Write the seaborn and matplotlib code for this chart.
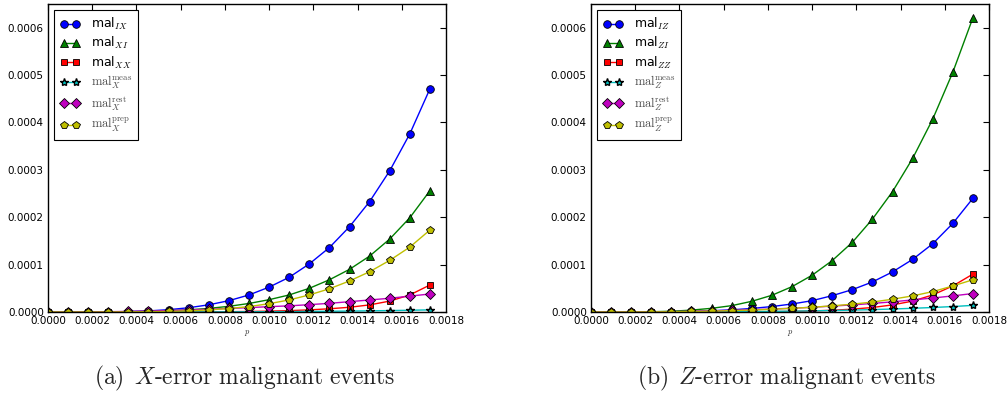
import numpy as np
import pandas as pd
import matplotlib
matplotlib.use("Agg")
import matplotlib.pyplot as plt
from matplotlib.ticker import FormatStrFormatter, MultipleLocator
import seaborn as sns

# ---------------- data ----------------
p = [0.0, 0.0000909, 0.0001818, 0.0002727, 0.0003636, 0.0004545, 0.0005455,
     0.0006364, 0.0007273, 0.0008182, 0.0009091, 0.0010000, 0.0010909,
     0.0011818, 0.0012727, 0.0013636, 0.0014545, 0.0015455, 0.0016364,
     0.0017273]

# (a) X-error malignant events
mal_IX = [0, 4e-9, 6e-8, 3e-7, 9.5e-7, 2.3e-6, 4.9e-6, 9.0e-6, 1.52e-5, 2.39e-5,
          3.6e-5, 5.25e-5, 7.33e-5, 1.015e-4, 1.36e-4, 1.80e-4, 2.33e-4,
          2.98e-4, 3.76e-4, 4.71e-4]
mal_XI = [0, 2e-9, 4e-8, 2e-7, 6e-7, 1.35e-6, 2.6e-6, 4.6e-6, 7.6e-6, 1.2e-5,
          1.8e-5, 2.6e-5, 3.6e-5, 5.0e-5, 6.8e-5, 9.0e-5, 1.18e-4, 1.54e-4,
          1.99e-4, 2.56e-4]
mal_XX = [0, 0, 0, 2e-9, 1e-8, 3e-8, 8e-8, 1.8e-7, 3.5e-7, 6.5e-7, 1.1e-6,
          1.8e-6, 2.9e-6, 4.5e-6, 6.8e-6, 1.0e-5, 1.5e-5, 2.3e-5, 3.6e-5, 5.7e-5]
mal_X_meas = [0, 0, 3e-9, 1e-8, 2.5e-8, 5e-8, 9e-8, 1.5e-7, 2.4e-7, 3.5e-7,
              5e-7, 7e-7, 9.5e-7, 1.25e-6, 1.6e-6, 2.0e-6, 2.5e-6, 3.0e-6,
              3.7e-6, 4.5e-6]
mal_X_rest = [0, 5e-8, 2.5e-7, 6e-7, 1.2e-6, 2.0e-6, 3.0e-6, 4.3e-6, 5.8e-6,
              7.5e-6, 9.2e-6, 1.13e-5, 1.3e-5, 1.55e-5, 1.83e-5, 2.18e-5,
              2.54e-5, 2.9e-5, 3.35e-5, 3.8e-5]
mal_X_prep = [0, 1e-9, 1.5e-8, 8e-8, 2.5e-7, 6e-7, 1.3e-6, 2.5e-6, 4.4e-6,
              7.3e-6, 1.15e-5, 1.75e-5, 2.55e-5, 3.6e-5, 4.9e-5, 6.55e-5,
              8.5e-5, 1.09e-4, 1.37e-4, 1.73e-4]

# (b) Z-error malignant events
mal_IZ = [0, 2e-9, 3.5e-8, 1.8e-7, 5.5e-7, 1.3e-6, 2.6e-6, 4.6e-6, 7.5e-6,
          1.15e-5, 1.69e-5, 2.39e-5, 3.45e-5, 4.72e-5, 6.34e-5, 8.46e-5,
          1.11e-4, 1.44e-4, 1.87e-4, 2.40e-4]
mal_ZI = [0, 6e-9, 1e-7, 5e-7, 1.6e-6, 4e-6, 7.8e-6, 1.34e-5, 2.26e-5, 3.53e-5,
          5.35e-5, 7.76e-5, 1.085e-4, 1.47e-4, 1.96e-4, 2.54e-4, 3.24e-4,
          4.07e-4, 5.06e-4, 6.21e-4]
mal_ZZ = [0, 0, 0, 2e-9, 8e-9, 2.5e-8, 7e-8, 1.7e-7, 3.6e-7, 7e-7, 1.3e-6,
          2.2e-6, 3.7e-6, 6e-6, 9.5e-6, 1.5e-5, 2.3e-5, 3.6e-5, 5.5e-5, 8.0e-5]
mal_Z_meas = [0, 2e-9, 1.5e-8, 5e-8, 1.2e-7, 2.4e-7, 4e-7, 6e-7, 9e-7, 1.3e-6,
              1.8e-6, 2.4e-6, 3.1e-6, 4.0e-6, 5.0e-6, 6.3e-6, 7.8e-6, 9.5e-6,
              1.15e-5, 1.4e-5]
mal_Z_rest = [0, 1e-8, 1e-7, 3.5e-7, 8e-7, 1.5e-6, 2.4e-6, 3.5e-6, 4.8e-6,
              6.3e-6, 8e-6, 1.0e-5, 1.25e-5, 1.5e-5, 1.8e-5, 2.15e-5, 2.55e-5,
              2.95e-5, 3.4e-5, 3.9e-5]
mal_Z_prep = [0, 5e-9, 6e-8, 2.2e-7, 5.5e-7, 1.1e-6, 1.9e-6, 2.9e-6, 4.2e-6,
              5.8e-6, 7.8e-6, 1.0e-5, 1.3e-5, 1.65e-5, 2.1e-5, 2.7e-5, 3.4e-5,
              4.3e-5, 5.5e-5, 6.8e-5]

labels_a = [r"mal$_{IX}$", r"mal$_{XI}$", r"mal$_{XX}$",
            r"$\mathrm{mal}_X^{\mathrm{meas}}$", r"$\mathrm{mal}_X^{\mathrm{rest}}$",
            r"$\mathrm{mal}_X^{\mathrm{prep}}$"]
labels_b = [r"mal$_{IZ}$", r"mal$_{ZI}$", r"mal$_{ZZ}$",
            r"$\mathrm{mal}_Z^{\mathrm{meas}}$", r"$\mathrm{mal}_Z^{\mathrm{rest}}$",
            r"$\mathrm{mal}_Z^{\mathrm{prep}}$"]
captions = [r"$\mathrm{(a)}\ \,X\mathrm{\text{-}error\ malignant\ events}$",
            r"$\mathrm{(b)}\ \,Z\mathrm{\text{-}error\ malignant\ events}$"]

# ---------------- style ----------------
sns.set_style("white")
plt.rcParams.update({
    "font.family": ["DejaVu Sans"],
    "mathtext.fontset": "cm",
    "xtick.direction": "in",
    "ytick.direction": "in",
    "xtick.top": True,
    "ytick.right": True,
    "xtick.major.size": 4,
    "ytick.major.size": 4,
    "xtick.major.width": 0.8,
    "ytick.major.width": 0.8,
    "xtick.major.pad": 3,
    "ytick.major.pad": 3,
    "axes.edgecolor": "black",
    "axes.linewidth": 1.0,
    "xtick.color": "black",
    "ytick.color": "black",
})

colors = [(0, 0, 1), (0, 0.5, 0), (1, 0, 0), (0, 0.75, 0.75), (0.75, 0, 0.75), (0.75, 0.75, 0)]
markers = ["o", "^", "s", "*", "D", "p"]
msizes = [5.5, 5.5, 5, 6, 5, 5.5]
mews = [0.6, 0.6, 0.6, 1.0, 0.6, 0.6]
txt_colors = ["black", "black", "black", "0.3", "0.3", "0.3"]

fig = plt.figure(figsize=(10.08, 3.96), dpi=100)
ax_a = fig.add_axes([48 / 1008, 1 - 312 / 396, 398 / 1008, 308 / 396])
ax_b = fig.add_axes([591 / 1008, 1 - 312 / 396, 398 / 1008, 308 / 396])

panels = [
    (ax_a, [mal_IX, mal_XI, mal_XX, mal_X_meas, mal_X_rest, mal_X_prep], labels_a),
    (ax_b, [mal_IZ, mal_ZI, mal_ZZ, mal_Z_meas, mal_Z_rest, mal_Z_prep], labels_b),
]

for ax, series, labels in panels:
    for vals, lab, col, mk, ms, mew in zip(series, labels, colors, markers, msizes, mews):
        df = pd.DataFrame({"p": p, "v": vals})
        sns.lineplot(data=df, x="p", y="v", ax=ax, color=col, marker=mk,
                     markersize=ms, markeredgecolor="black", markeredgewidth=mew,
                     linewidth=1.0, label=lab, sort=False)
    ax.set_xlim(0, 0.0018)
    ax.set_ylim(0, 0.00065)
    ax.xaxis.set_major_locator(MultipleLocator(0.0002))
    ax.yaxis.set_major_locator(MultipleLocator(0.0001))
    ax.xaxis.set_major_formatter(FormatStrFormatter("%.4f"))
    ax.yaxis.set_major_formatter(FormatStrFormatter("%.4f"))
    ax.tick_params(labelsize=7.5)
    ax.set_xlabel(r"$p$", fontsize=6, labelpad=1)
    ax.set_ylabel("")
    for s in ax.spines.values():
        s.set_visible(True)
        s.set_color("black")
    leg = ax.legend(loc="upper left", fontsize=9, numpoints=2, handlelength=1.6,
                    fancybox=False, framealpha=1, edgecolor="black",
                    borderaxespad=0.5, labelspacing=0.26, handletextpad=0.9,
                    borderpad=0.45)
    leg.get_frame().set_linewidth(0.8)
    for t, c in zip(leg.get_texts(), txt_colors):
        t.set_color(c)

fig.text(245 / 1008, 1 - 378 / 396, captions[0], fontsize=17, ha="center", va="center")
fig.text(787 / 1008, 1 - 378 / 396, captions[1], fontsize=17, ha="center", va="center")

fig.savefig("out.png", dpi=100)
